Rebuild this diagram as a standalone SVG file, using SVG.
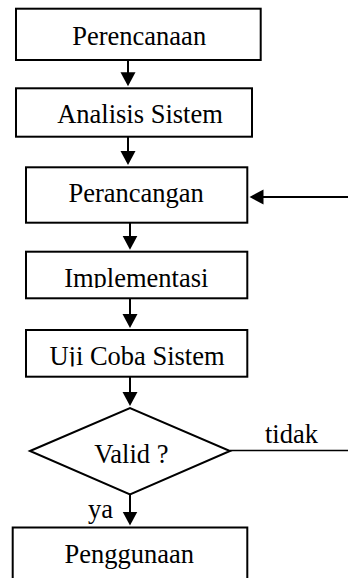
<svg xmlns="http://www.w3.org/2000/svg" width="348" height="578" viewBox="0 0 348 578">
  <style>
    .box { fill: #ffffff; stroke: #000000; stroke-width: 2; }
    .lbl { font-family: 'Liberation Serif', 'DejaVu Serif', serif; font-size: 26.5px; fill: #000000; }
    .mid { text-anchor: middle; }
    .conn { fill: none; stroke: #000000; stroke-width: 2; }
    .thin { fill: none; stroke: #000000; stroke-width: 1.5; }
  </style>
  <defs>
    <marker id="arrow" markerUnits="userSpaceOnUse" markerWidth="16" markerHeight="16" viewBox="0 0 16 16" refX="8" refY="8" orient="auto">
      <path d="M0,0.5 L14,8 L0,15.5 Z" fill="#000000"/>
    </marker>
    <clipPath id="clipImpl"><rect x="0" y="240" width="348" height="48"/></clipPath>
    <clipPath id="clipUji"><rect x="0" y="320" width="348" height="46.5"/></clipPath>
  </defs>

  <g id="connectors">
    <line class="conn" x1="128" y1="60" x2="128" y2="80.3" marker-end="url(#arrow)"/>
    <line class="conn" x1="128" y1="136.7" x2="128" y2="159" marker-end="url(#arrow)"/>
    <line class="conn" x1="130" y1="222.7" x2="130" y2="243.7" marker-end="url(#arrow)"/>
    <line class="conn" x1="130" y1="298.3" x2="130" y2="322" marker-end="url(#arrow)"/>
    <line class="conn" x1="130" y1="376.7" x2="130" y2="400" marker-end="url(#arrow)"/>
    <line class="conn" x1="130" y1="494.3" x2="130" y2="519.5" marker-end="url(#arrow)"/>
    <line class="conn" x1="348" y1="197" x2="255.5" y2="197" marker-end="url(#arrow)"/>
    <line class="thin" x1="230" y1="450.5" x2="348" y2="450.5"/>
    <text class="lbl" font-family="Liberation Serif, serif" x="265" y="443">tidak</text>
    <text class="lbl" font-family="Liberation Serif, serif" x="88" y="518.3">ya</text>
  </g>

  <g id="perencanaan">
    <rect class="box" x="16" y="8.7" width="244.7" height="51.3"/>
    <text class="lbl mid" font-family="Liberation Serif, serif" x="139.2" y="45">Perencanaan</text>
  </g>

  <g id="analisis-sistem">
    <rect class="box" x="16" y="88.3" width="236" height="48.4"/>
    <text class="lbl mid" font-family="Liberation Serif, serif" x="140" y="123">Analisis Sistem</text>
  </g>

  <g id="perancangan">
    <rect class="box" x="26" y="167.3" width="221.3" height="55.4"/>
    <text class="lbl mid" font-family="Liberation Serif, serif" x="136.2" y="201.7">Perancangan</text>
  </g>

  <g id="implementasi">
    <rect class="box" x="26" y="251.7" width="221.3" height="46.6"/>
    <text class="lbl mid" font-family="Liberation Serif, serif" x="136.3" y="286.7" clip-path="url(#clipImpl)">Implementasi</text>
  </g>

  <g id="uji-coba-sistem">
    <rect class="box" x="26" y="330" width="221.3" height="46.7"/>
    <text class="lbl mid" font-family="Liberation Serif, serif" x="137" y="365" clip-path="url(#clipUji)">Uji Coba Sistem</text>
  </g>

  <g id="valid">
    <polygon class="box" points="30,451 130,408 230,451 130,494.3"/>
    <text class="lbl mid" font-family="Liberation Serif, serif" x="131.3" y="463.3">Valid ?</text>
  </g>

  <g id="penggunaan">
    <rect class="box" x="12.7" y="527.5" width="234.6" height="70"/>
    <text class="lbl mid" font-family="Liberation Serif, serif" x="129.2" y="563.3">Penggunaan</text>
  </g>
</svg>
